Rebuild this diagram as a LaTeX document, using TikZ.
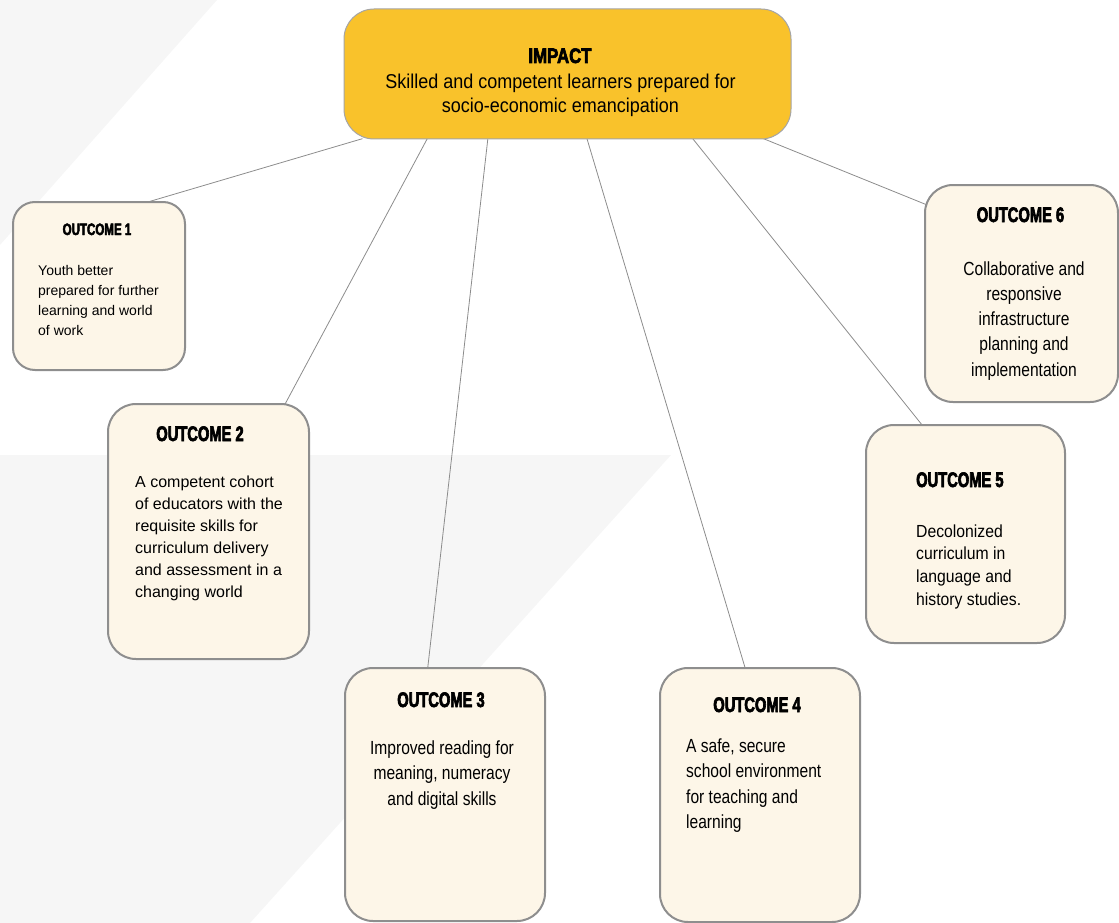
\documentclass[tikz,border=0pt]{standalone}
\usepackage{fontspec}
\usetikzlibrary{calc}
\setmainfont{Liberation Sans}
\newfontfamily\headfamily{Liberation Sans}[FakeStretch=0.7,BoldFeatures={FakeBold=3}]
\newfontfamily\bigheadfamily{Liberation Sans}[FakeStretch=0.8,BoldFeatures={FakeBold=3}]
\newfontfamily\narrowfont{Liberation Sans}[FakeStretch=0.82]
\newfontfamily\semifont{Liberation Sans}[FakeStretch=0.9]
\newcommand{\headfont}[1]{\headfamily\bfseries\fontsize{#1}{#1}\selectfont}
\definecolor{shadec}{HTML}{F6F6F6}
\definecolor{creamc}{HTML}{FDF6E8}
\definecolor{goldc}{HTML}{F9C22B}
\definecolor{rimc}{HTML}{8E8E8E}
\definecolor{wirec}{HTML}{8C8C8C}
\pgfdeclarelayer{bg}
\pgfdeclarelayer{wires}
\pgfsetlayers{bg,wires,main}
\tikzset{
  outbox/.style={draw=rimc, line width=2pt, fill=creamc, rounded corners=28pt, inner sep=0pt},
  impbox/.style={draw=rimc!80, line width=1pt, fill=goldc, rounded corners=30pt, inner sep=0pt},
  head/.style={inner sep=0pt, anchor=base},
  body/.style={inner sep=0pt, anchor=north west, align=left},
  link/.style={draw=wirec, line width=0.8pt, shorten <=-3pt, shorten >=-3pt},
}

\begin{document}
\begin{tikzpicture}[x=1pt,y=-1pt]
  \useasboundingbox (0,0) rectangle (1119,923);
  % pale background wedges
  \begin{pgfonlayer}{bg}
    \fill[shadec] (0,0) -- (217,0) -- (0,245) -- cycle;
    \fill[shadec] (0,455) -- (671,455) -- (250,923) -- (0,923) -- cycle;
  \end{pgfonlayer}
  % impact and outcome boxes
  \node[impbox, minimum width=447pt, minimum height=130pt] (imp) at (567.5,74) {};
  \node[outbox, rounded corners=22pt, minimum width=172pt, minimum height=168pt] (o1) at (99,286) {};
  \node[outbox, minimum width=201pt, minimum height=255pt] (o2) at (208.5,531.5) {};
  \node[outbox, minimum width=200pt, minimum height=253pt] (o3) at (445,794.5) {};
  \node[outbox, minimum width=200pt, minimum height=254pt] (o4) at (760,795) {};
  \node[outbox, minimum width=199pt, minimum height=218pt] (o5) at (965.5,534) {};
  \node[outbox, minimum width=193pt, minimum height=217pt] (o6) at (1021.5,293.5) {};
  % titles
  \node[head, font=\bigheadfamily\bfseries\fontsize{21}{21}\selectfont] (timp) at (560,63) {IMPACT};
  \node[head, font=\headfont{16.5}] (t1) at (97,235) {OUTCOME 1};
  \node[head, font=\headfont{21}] (t2) at (200,441) {OUTCOME 2};
  \node[head, font=\headfont{21}] (t3) at (441,707) {OUTCOME 3};
  \node[head, font=\headfont{21}] (t4) at (757,712) {OUTCOME 4};
  \node[head, anchor=base west, font=\headfont{21}] (t5) at (916,487) {OUTCOME 5};
  \node[head, font=\headfont{21}] (t6) at (1020.5,222) {OUTCOME 6};
  % texts
  \node[body, anchor=north, align=center, font=\semifont\fontsize{20}{24}\selectfont] (bimp) at (560.5,73.4)
    {Skilled and competent learners prepared for\\socio-economic emancipation};
  \node[body, font=\fontsize{14}{20}\selectfont] (b1) at (38,264.8)
    {Youth better\\prepared for further\\learning and world\\of work};
  \node[body, font=\fontsize{16}{22}\selectfont] (b2) at (135,475.3)
    {A competent cohort\\of educators with the\\requisite skills for\\curriculum delivery\\and assessment in a\\changing world};
  \node[body, anchor=north, align=center, font=\narrowfont\fontsize{19}{25.5}\selectfont] (b3) at (442,740.1)
    {Improved reading for\\meaning, numeracy\\and digital skills};
  \node[body, font=\narrowfont\fontsize{19}{25.5}\selectfont] (b4) at (686,738.1)
    {A safe, secure\\school environment\\for teaching and\\learning};
  \node[body, font=\semifont\fontsize{17.5}{22.7}\selectfont] (b5) at (916,524.2)
    {Decolonized\\curriculum in\\language and\\history studies.};
  \node[body, anchor=north, align=center, font=\narrowfont\fontsize{19}{25.3}\selectfont] (b6) at (1024,261.1)
    {Collaborative and\\responsive\\infrastructure\\planning and\\implementation};
  % connectors
  \begin{pgfonlayer}{wires}
    \foreach \f/\n/\g in {.036/o1/.80, .186/o2/.88, .322/o3/.415, .544/o4/.425, .781/o5/.28}
      \draw[link] ($(imp.south west)!\f!(imp.south east)$) -- ($(\n.north west)!\g!(\n.north east)$);
    \draw[link] ($(imp.south west)!.942!(imp.south east)$) -- ($(o6.north west)!.09!(o6.south west)$);
  \end{pgfonlayer}
\end{tikzpicture}
\end{document}
